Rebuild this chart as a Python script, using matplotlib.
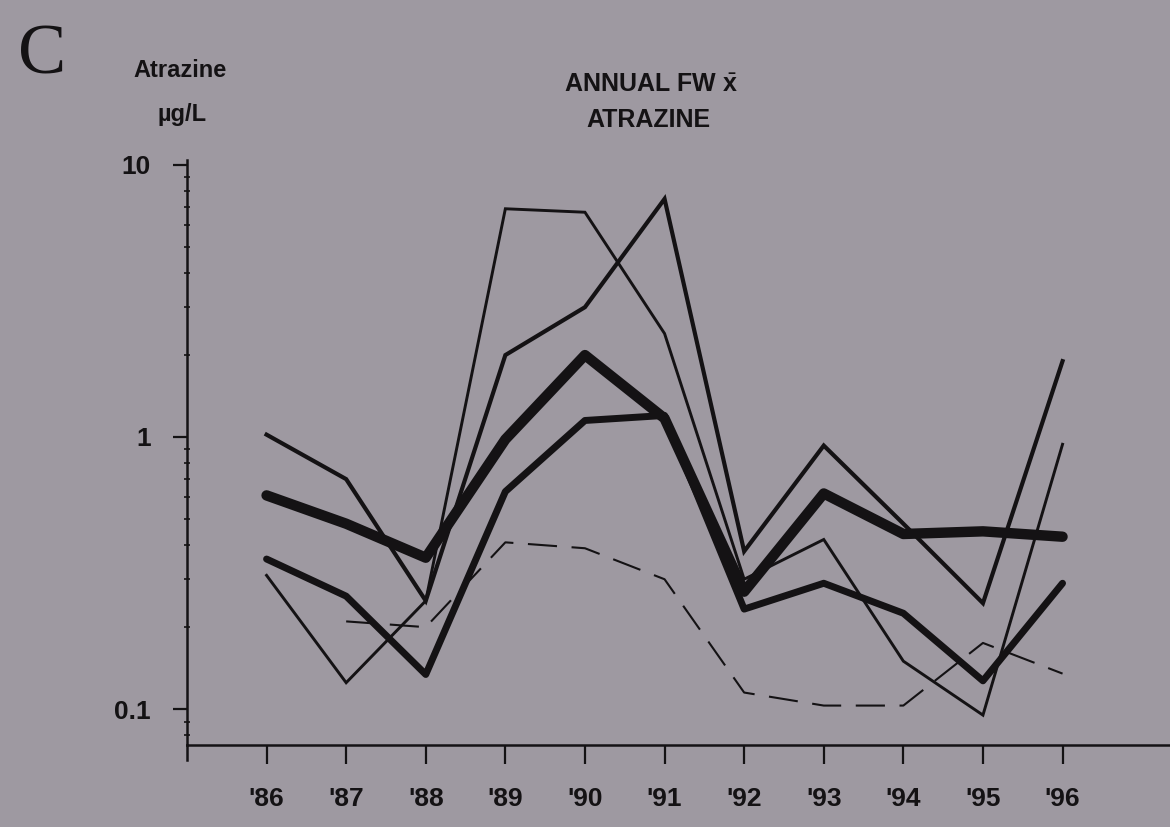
import numpy as np
import matplotlib
matplotlib.use('Agg')
import matplotlib.pyplot as plt
from matplotlib.ticker import LogLocator, FixedLocator, NullFormatter

# annual flow-weighted mean atrazine, ug/L
years = [86, 87, 88, 89, 90, 91, 92, 93, 94, 95, 96]
year_labels = ["'86", "'87", "'88", "'89", "'90", "'91", "'92", "'93", "'94", "'95", "'96"]

heavy = [0.61, 0.48, 0.36, 0.98, 2.0, 1.17, 0.27, 0.62, 0.44, 0.45, 0.43]
medium = [0.356, 0.26, 0.134, 0.63, 1.15, 1.2, 0.233, 0.29, 0.225, 0.127, 0.29]
thin_a = [1.02, 0.70, 0.25, 2.0, 3.0, 7.5, 0.38, 0.93, 0.48, 0.245, 1.9]
thin_b = [0.31, 0.125, 0.25, 6.9, 6.7, 2.4, 0.30, 0.42, 0.15, 0.095, 0.94]

dash_years = [87, 88, 89, 90, 91, 92, 93, 94, 95, 96]
dashed = [0.21, 0.20, 0.41, 0.39, 0.30, 0.115, 0.103, 0.103, 0.175, 0.135]

bg = '#9e99a1'
ink = '#141214'

plt.rcParams['font.family'] = ['Liberation Sans', 'DejaVu Sans']
plt.rcParams['mathtext.fontset'] = 'custom'
plt.rcParams['mathtext.rm'] = 'Liberation Sans'
plt.rcParams['mathtext.bf'] = 'Liberation Sans:bold'

fig = plt.figure(figsize=(11.7, 8.27), dpi=100, facecolor=bg)
ax = fig.add_axes([0.1598, 0.0992, 0.8402, 0.7074])
ax.set_facecolor(bg)

ax.plot(years, thin_b, color=ink, lw=2.1, solid_joinstyle='miter')
ax.plot(years, thin_a, color=ink, lw=3.0, solid_joinstyle='miter')
ax.plot(dash_years, dashed, color=ink, lw=1.5, dashes=(14, 7))
ax.plot(years, medium, color=ink, lw=5.0, solid_capstyle='round', solid_joinstyle='round')
ax.plot(years, heavy, color=ink, lw=7.5, solid_capstyle='round', solid_joinstyle='round')

ax.set_yscale('log')
ax.set_ylim(0.0738, 10.43)
ax.set_xlim(85, 97.35)

ax.spines['top'].set_visible(False)
ax.spines['right'].set_visible(False)
for s in ['left', 'bottom']:
    ax.spines[s].set_linewidth(1.8)
    ax.spines[s].set_color(ink)
# left axis runs a little below the x axis, as in the original
ax.plot([0, 0], [0, -0.025], transform=ax.transAxes, color=ink, lw=1.8, clip_on=False)

ax.yaxis.set_major_locator(FixedLocator([0.1, 1, 10]))
ax.set_yticklabels(['0.1', '1', '10'], fontweight='bold')
ax.yaxis.set_minor_locator(LogLocator(base=10, subs=np.arange(2, 10)))
ax.yaxis.set_minor_formatter(NullFormatter())
ax.tick_params(axis='y', which='major', direction='out', length=10, width=1.6,
               color=ink, labelsize=19, labelcolor=ink, pad=16)
ax.tick_params(axis='y', which='minor', direction='inout', length=4, width=1.2, color=ink)

ax.set_xticks(years)
ax.set_xticklabels(year_labels, fontweight='bold')
ax.tick_params(axis='x', direction='out', length=14, width=1.6, color=ink,
               labelsize=19, labelcolor=ink, pad=16)

fig.text(0.036, 0.932, 'C', family='Liberation Serif', fontsize=52, color=ink,
         ha='center', va='center')
fig.text(0.154, 0.915, 'Atrazine', fontsize=17, fontweight='bold', color=ink,
         ha='center', va='center')
fig.text(0.156, 0.862, 'µg/L', fontsize=17, fontweight='bold', color=ink,
         ha='center', va='center')
fig.text(0.556, 0.897, r'ANNUAL FW $\bar{\mathbf{x}}$', fontsize=18, fontweight='bold',
         color=ink, ha='center', va='center')
fig.text(0.554, 0.855, 'ATRAZINE', fontsize=18, fontweight='bold', color=ink,
         ha='center', va='center')

fig.savefig('out.png', dpi=100, facecolor=bg)
